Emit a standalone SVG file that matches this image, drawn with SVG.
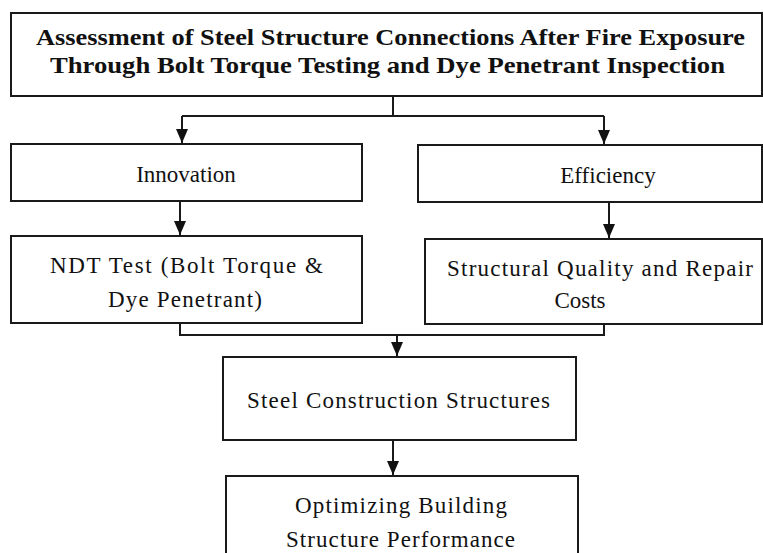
<svg xmlns="http://www.w3.org/2000/svg" width="763" height="553" viewBox="0 0 763 553">
  <style>
    .box { fill: #ffffff; stroke: #1a1a1a; stroke-width: 2; }
    .title { font-family: "Liberation Serif", Tinos, "Times New Roman", Times, "Noto Serif", "DejaVu Serif", serif; font-weight: bold; font-size: 24px; fill: #111111; text-anchor: middle; }
    .lbl { font-family: "Liberation Serif", Tinos, "Times New Roman", Times, "Noto Serif", "DejaVu Serif", serif; font-size: 23px; fill: #111111; text-anchor: middle; }
    .wire { fill: none; stroke: #1a1a1a; stroke-width: 2; }
  </style>
  <defs>
    <!-- downward arrowhead, tip at the end of the line -->
    <marker id="arrow" markerUnits="userSpaceOnUse" markerWidth="12" markerHeight="14" viewBox="0 0 12 14" refX="6" refY="14" orient="0">
      <path d="M0,0 L12,0 L6,14 Z" fill="#111111"/>
    </marker>
  </defs>
  <rect width="763" height="553" fill="#ffffff"/>

  <!-- connectors -->
  <g id="connectors">
    <path class="wire" d="M393,96 V116 M182,116 H604"/>
    <path class="wire" d="M182,116 V143" marker-end="url(#arrow)"/>
    <path class="wire" d="M604,116 V144" marker-end="url(#arrow)"/>
    <path class="wire" d="M180,201 V235" marker-end="url(#arrow)"/>
    <path class="wire" d="M609,203 V238" marker-end="url(#arrow)"/>
    <path class="wire" d="M180,323 V335 H604 V324"/>
    <path class="wire" d="M397,335 V356" marker-end="url(#arrow)"/>
    <path class="wire" d="M393,440 V475" marker-end="url(#arrow)"/>
  </g>

  <g id="node-title">
    <rect class="box" x="11" y="13" width="751" height="83"/>
    <text class="title" x="390.5" y="45" textLength="709" lengthAdjust="spacingAndGlyphs">Assessment of Steel Structure Connections After Fire Exposure</text>
    <text class="title" x="387.5" y="73" textLength="675" lengthAdjust="spacingAndGlyphs">Through  Bolt Torque  Testing and  Dye Penetrant Inspection</text>
  </g>

  <g id="node-innovation">
    <rect class="box" x="11" y="144" width="351" height="57"/>
    <text class="lbl" x="186" y="182">Innovation</text>
  </g>

  <g id="node-efficiency">
    <rect class="box" x="418" y="145" width="344" height="57"/>
    <text class="lbl" x="608" y="183">Efficiency</text>
  </g>

  <g id="node-ndt">
    <rect class="box" x="11" y="236" width="351" height="87"/>
    <text class="lbl" x="186.5" y="273" textLength="273" lengthAdjust="spacing">NDT Test (Bolt Torque &amp;</text>
    <text class="lbl" x="185" y="307" textLength="154" lengthAdjust="spacing">Dye Penetrant)</text>
  </g>

  <g id="node-quality">
    <rect class="box" x="425" y="239" width="337" height="85"/>
    <text class="lbl" x="600" y="276" textLength="306" lengthAdjust="spacing">Structural Quality and Repair</text>
    <text class="lbl" x="580" y="308">Costs</text>
  </g>

  <g id="node-steel">
    <rect class="box" x="223" y="357" width="353" height="83"/>
    <text class="lbl" x="398.5" y="408" textLength="303" lengthAdjust="spacing">Steel Construction Structures</text>
  </g>

  <g id="node-optimizing">
    <rect class="box" x="226" y="476" width="352" height="90"/>
    <text class="lbl" x="401" y="513" textLength="212" lengthAdjust="spacing">Optimizing Building</text>
    <text class="lbl" x="400.5" y="547" textLength="229" lengthAdjust="spacing">Structure Performance</text>
  </g>
</svg>
